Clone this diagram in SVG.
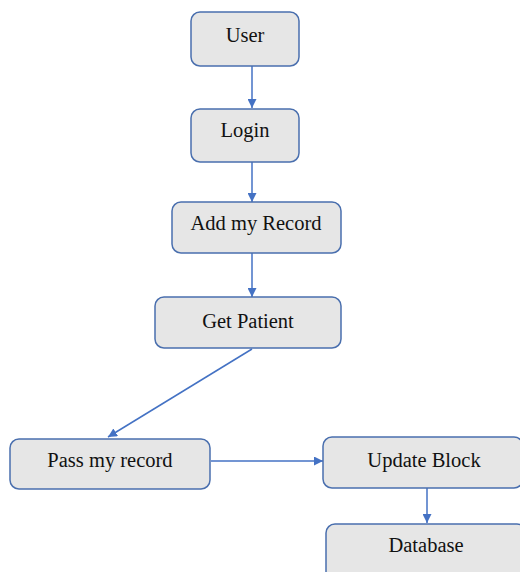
<svg xmlns="http://www.w3.org/2000/svg" width="520" height="572" viewBox="0 0 520 572">
<defs>
<marker id="ah" viewBox="0 0 10 10" refX="10" refY="5" markerWidth="9" markerHeight="9" markerUnits="userSpaceOnUse" orient="auto">
<path d="M0,0 L10,5 L0,10 z" fill="#4472c4"/>
</marker>
<style>
.box{fill:#e6e6e6;stroke:#4a6fae;stroke-width:1.5}
.lbl{font-family:"Liberation Serif","Times New Roman",serif;font-size:20.5px;fill:#111;text-anchor:middle}
.c{stroke:#4472c4;stroke-width:1.5;fill:none;marker-end:url(#ah)}
</style>
</defs>
<rect width="520" height="572" fill="#fff"/>
<g id="connectors">
<line class="c" x1="252" y1="66" x2="252" y2="108"/>
<line class="c" x1="252" y1="162" x2="252" y2="202"/>
<line class="c" x1="252" y1="253" x2="252" y2="297"/>
<line class="c" x1="252" y1="349" x2="108" y2="437"/>
<line class="c" x1="211" y1="461" x2="323" y2="461"/>
<line class="c" x1="427" y1="488" x2="427" y2="523"/>
</g>
<g id="user"><rect class="box" x="191" y="12" width="108" height="54" rx="9"/><text class="lbl" x="245" y="42">User</text></g>
<g id="login"><rect class="box" x="191" y="109" width="108" height="53" rx="9"/><text class="lbl" x="245" y="137">Login</text></g>
<g id="add"><rect class="box" x="172" y="202" width="169" height="51" rx="9"/><text class="lbl" x="256" y="230">Add my Record</text></g>
<g id="get"><rect class="box" x="155" y="297" width="186" height="51" rx="9"/><text class="lbl" x="248" y="328">Get Patient</text></g>
<g id="pass"><rect class="box" x="10" y="439" width="200" height="50" rx="9"/><text class="lbl" x="110" y="467">Pass my record</text></g>
<g id="update"><rect class="box" x="323" y="437" width="200" height="51" rx="9"/><text class="lbl" x="424" y="467">Update Block</text></g>
<g id="database"><rect class="box" x="326" y="524" width="200" height="60" rx="9"/><text class="lbl" x="426" y="552">Database</text></g>
</svg>
